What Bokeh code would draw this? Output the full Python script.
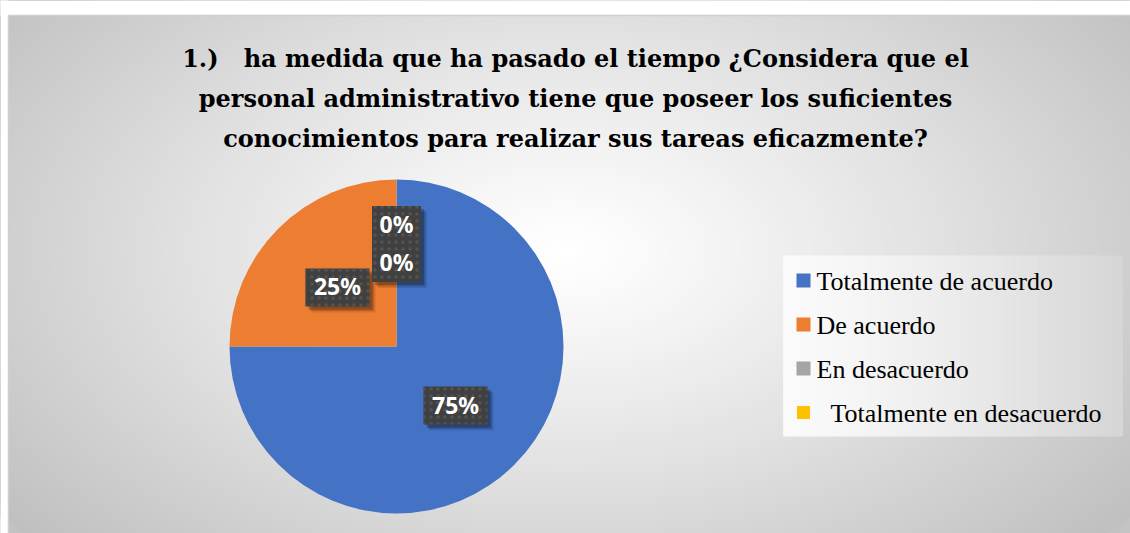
import numpy as np
from bokeh.plotting import figure
from bokeh.models import Range1d
from bokeh.core.properties import value
from bokeh.embed import file_html
from bokeh.resources import INLINE

# ---------------- data ----------------
categories = ["Totalmente de acuerdo", "De acuerdo", "En desacuerdo", "Totalmente en desacuerdo"]
percentages = [75, 25, 0, 0]
colors = ["#4472C4", "#ED7D31", "#A5A5A5", "#FFC000"]
title_lines = [
    "1.)\u00a0\u00a0\u00a0ha medida que ha pasado el tiempo ¿Considera que el",
    "personal administrativo tiene que poseer los suficientes",
    "conocimientos para realizar sus tareas eficazmente?",
]

# ---------------- layout ----------------
W, H = 1130, 533


def X(ix):  # image x -> data x
    return ix


def Y(iy):  # image y -> data y
    return H - iy


p = figure(width=W, height=H, x_range=Range1d(0, W), y_range=Range1d(0, H),
           output_backend="svg", toolbar_location=None, min_border=0)
p.axis.visible = False
p.grid.visible = False
p.outline_line_color = None
p.background_fill_color = "#c3c3c3"
p.border_fill_color = "white"

# radial gradient background
cx_g, cy_g = X(565), Y(250)
rx, ry = 720, 430
N = 70
for i in range(N, 0, -1):
    t = i / N
    g = int(round(255 - (255 - 192) * t ** 1.15))
    col = "#%02x%02x%02x" % (g, g, g)
    p.ellipse(x=cx_g, y=cy_g, width=2 * rx * t, height=2 * ry * t,
              fill_color=col, line_color=None)

# white margins above / left of the chart area and frame line
p.rect(x=W / 2, y=(H + Y(15)) / 2, width=W + 4, height=H - Y(15), fill_color="white", line_color=None)
p.rect(x=X(8) / 2, y=H / 2, width=X(8), height=H + 4, fill_color="white", line_color=None)
p.line(x=[X(8), W], y=[Y(15), Y(15)], line_color="#cfcfcf", line_width=1.5)
p.line(x=[X(8), X(8)], y=[0, Y(15)], line_color="#cfcfcf", line_width=1.5)

# ---------------- title ----------------
p.text(x=[X(575)] * 3, y=[Y(58), Y(98), Y(138)], text=title_lines,
       text_font=value("DejaVu Serif"), text_font_style="bold",
       text_font_size="24px", text_align="center", text_baseline="middle",
       text_color="black")

# ---------------- pie ----------------
pcx, pcy, R = X(396), Y(346), 167
vals = np.array(percentages, dtype=float)
fr = vals / vals.sum()
cum = np.concatenate([[0], np.cumsum(fr)[:-1]])
start = np.pi / 2 - 2 * np.pi * cum
end = start - 2 * np.pi * fr
nz = fr > 0
p.wedge(x=pcx, y=pcy, radius=R, start_angle=list(start[nz]), end_angle=list(end[nz]),
        direction="clock", fill_color=[c for c, k in zip(colors, nz) if k], line_color=None)

# data labels
mid = (start + end) / 2
labels = ["%d%%" % v for v in percentages]
bh = 38
placed = []
lx, ly, lw = [], [], []
for ang, lab in zip(mid, labels):
    x = pcx + 0.5 * R * np.cos(ang)
    y = pcy + 0.5 * R * np.sin(ang)
    w = 19 + 15 * len(lab)
    moved = True
    while moved:
        moved = False
        for (px_, py_, pw_) in placed:
            if abs(px_ - x) < (pw_ + w) / 2 and abs(py_ - y) < bh - 1:
                y = py_ + bh
                moved = True
    placed.append((x, y, w))
    lx.append(x); ly.append(y); lw.append(w)

# shadows
for off, a in [(6, 0.10), (4.5, 0.15), (3, 0.22)]:
    p.rect(x=[v + off for v in lx], y=[v - off for v in ly], width=lw, height=bh,
           fill_color="black", fill_alpha=a, line_color=None)
p.rect(x=lx, y=ly, width=lw, height=bh, fill_color="#404040", line_color=None,
       hatch_pattern="dot", hatch_color="#535353", hatch_scale=7, hatch_weight=1.2)
p.text(x=lx, y=[v + 1 for v in ly], text=labels, text_font=value("Noto Sans"),
       text_font_style="bold", text_font_size="23px", text_color="white",
       text_align="center", text_baseline="middle")

# ---------------- legend ----------------
bx0, bx1, by_bot, by_top = X(783), X(1122), Y(436), Y(255)
NS = 40
wstep = (bx1 - bx0) / NS
for i in range(NS):
    t = i / (NS - 1)
    g = int(round(250 - (250 - 214) * t ** 1.3))
    col = "#%02x%02x%02x" % (g, g, g)
    p.rect(x=bx0 + wstep * (i + 0.5), y=(by_bot + by_top) / 2, width=wstep + 0.8,
           height=by_top - by_bot, fill_color=col, line_color=None)

row_y = [Y(280) - k * 44 for k in range(len(categories))]
sq_size = [14, 14, 14, 13]
text_x = [X(816), X(816), X(816), X(830)]
p.rect(x=[X(803)] * len(categories), y=row_y, width=sq_size, height=sq_size,
       fill_color=colors, line_color=None)
p.text(x=text_x, y=[v - 1 for v in row_y], text=categories,
       text_font=value("Liberation Serif, Times New Roman, serif"),
       text_font_size="26px", text_color="black", text_align="left", text_baseline="middle")

open("out.html", "w").write(file_html(p, INLINE))
